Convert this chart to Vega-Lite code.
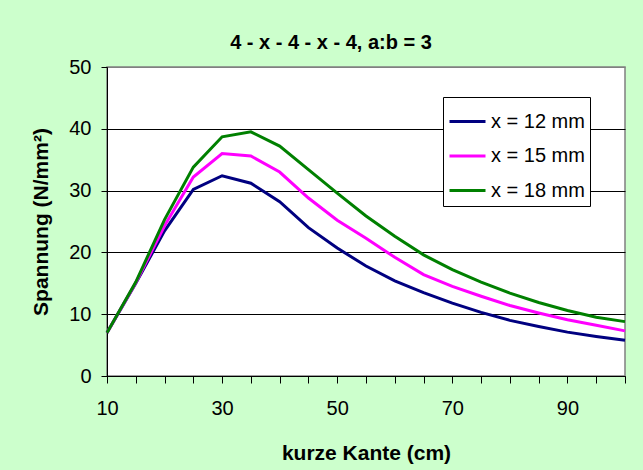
{
  "$schema": "https://vega.github.io/schema/vega-lite/v6.json",
  "width": 518,
  "height": 309,
  "autosize": "none",
  "padding": {"left": 107, "top": 67, "right": 18, "bottom": 94},
  "background": "#CCFFCC",
  "config": {
    "font": "Liberation Sans",
    "view": {"fill": "white", "stroke": "#808080", "strokeWidth": 1.5},
    "axis": {"labelFont": "Liberation Sans", "titleFont": "Liberation Sans", "labelColor": "black", "titleColor": "black", "domainColor": "black", "tickColor": "black", "labelFontSize": 20, "titleFontSize": 21, "titleFontWeight": "bold"}
  },
  "title": {"text": "4 - x - 4 - x - 4, a:b = 3", "font": "Liberation Sans", "fontSize": 20, "fontWeight": "bold", "color": "black", "anchor": "middle", "dx": -35, "offset": 4},
  "data": {"values": [
    {"kante": 10, "serie": "x = 12 mm", "spannung": 7.0},
    {"kante": 15, "serie": "x = 12 mm", "spannung": 15.0},
    {"kante": 20, "serie": "x = 12 mm", "spannung": 23.5},
    {"kante": 25, "serie": "x = 12 mm", "spannung": 30.2},
    {"kante": 30, "serie": "x = 12 mm", "spannung": 32.4},
    {"kante": 35, "serie": "x = 12 mm", "spannung": 31.2},
    {"kante": 40, "serie": "x = 12 mm", "spannung": 28.2},
    {"kante": 45, "serie": "x = 12 mm", "spannung": 24.0},
    {"kante": 50, "serie": "x = 12 mm", "spannung": 20.7},
    {"kante": 55, "serie": "x = 12 mm", "spannung": 17.8},
    {"kante": 60, "serie": "x = 12 mm", "spannung": 15.4},
    {"kante": 65, "serie": "x = 12 mm", "spannung": 13.5},
    {"kante": 70, "serie": "x = 12 mm", "spannung": 11.8},
    {"kante": 75, "serie": "x = 12 mm", "spannung": 10.3},
    {"kante": 80, "serie": "x = 12 mm", "spannung": 9.0},
    {"kante": 85, "serie": "x = 12 mm", "spannung": 8.0},
    {"kante": 90, "serie": "x = 12 mm", "spannung": 7.1},
    {"kante": 95, "serie": "x = 12 mm", "spannung": 6.4},
    {"kante": 100, "serie": "x = 12 mm", "spannung": 5.8},
    {"kante": 10, "serie": "x = 15 mm", "spannung": 7.0},
    {"kante": 15, "serie": "x = 15 mm", "spannung": 15.1},
    {"kante": 20, "serie": "x = 15 mm", "spannung": 24.3},
    {"kante": 25, "serie": "x = 15 mm", "spannung": 32.2},
    {"kante": 30, "serie": "x = 15 mm", "spannung": 36.0},
    {"kante": 35, "serie": "x = 15 mm", "spannung": 35.6},
    {"kante": 40, "serie": "x = 15 mm", "spannung": 33.0},
    {"kante": 45, "serie": "x = 15 mm", "spannung": 28.8},
    {"kante": 50, "serie": "x = 15 mm", "spannung": 25.2},
    {"kante": 55, "serie": "x = 15 mm", "spannung": 22.3},
    {"kante": 60, "serie": "x = 15 mm", "spannung": 19.2},
    {"kante": 65, "serie": "x = 15 mm", "spannung": 16.4},
    {"kante": 70, "serie": "x = 15 mm", "spannung": 14.5},
    {"kante": 75, "serie": "x = 15 mm", "spannung": 12.9},
    {"kante": 80, "serie": "x = 15 mm", "spannung": 11.4},
    {"kante": 85, "serie": "x = 15 mm", "spannung": 10.2},
    {"kante": 90, "serie": "x = 15 mm", "spannung": 9.1},
    {"kante": 95, "serie": "x = 15 mm", "spannung": 8.2},
    {"kante": 100, "serie": "x = 15 mm", "spannung": 7.3},
    {"kante": 10, "serie": "x = 18 mm", "spannung": 7.0},
    {"kante": 15, "serie": "x = 18 mm", "spannung": 15.2},
    {"kante": 20, "serie": "x = 18 mm", "spannung": 25.3},
    {"kante": 25, "serie": "x = 18 mm", "spannung": 33.8},
    {"kante": 30, "serie": "x = 18 mm", "spannung": 38.7},
    {"kante": 35, "serie": "x = 18 mm", "spannung": 39.5},
    {"kante": 40, "serie": "x = 18 mm", "spannung": 37.2},
    {"kante": 45, "serie": "x = 18 mm", "spannung": 33.4},
    {"kante": 50, "serie": "x = 18 mm", "spannung": 29.6},
    {"kante": 55, "serie": "x = 18 mm", "spannung": 25.9},
    {"kante": 60, "serie": "x = 18 mm", "spannung": 22.6},
    {"kante": 65, "serie": "x = 18 mm", "spannung": 19.6},
    {"kante": 70, "serie": "x = 18 mm", "spannung": 17.2},
    {"kante": 75, "serie": "x = 18 mm", "spannung": 15.2},
    {"kante": 80, "serie": "x = 18 mm", "spannung": 13.4},
    {"kante": 85, "serie": "x = 18 mm", "spannung": 11.9},
    {"kante": 90, "serie": "x = 18 mm", "spannung": 10.6},
    {"kante": 95, "serie": "x = 18 mm", "spannung": 9.5},
    {"kante": 100, "serie": "x = 18 mm", "spannung": 8.8}
  ]},
  "mark": {"type": "line", "strokeWidth": 3},
  "encoding": {
    "x": {
      "field": "kante", "type": "quantitative",
      "scale": {"domain": [10, 100], "nice": false, "zero": false},
      "axis": {
        "title": "kurze Kante (cm)",
        "values": [10, 15, 20, 25, 30, 35, 40, 45, 50, 55, 60, 65, 70, 75, 80, 85, 90, 95, 100],
        "labelExpr": "(datum.value - 10) % 20 == 0 ? datum.label : ''",
        "grid": false, "tickSize": 7, "labelPadding": 15, "titlePadding": 24,
        "labelOverlap": false, "labelFlush": false
      }
    },
    "y": {
      "field": "spannung", "type": "quantitative",
      "scale": {"domain": [0, 50], "nice": false},
      "axis": {
        "title": "Spannung (N/mm²)",
        "values": [0, 10, 20, 30, 40, 50],
        "grid": true,
        "gridColor": {"condition": {"test": "datum.value == 50", "value": "#808080"}, "value": "black"},
        "gridOpacity": 1,
        "tickSize": 6, "labelPadding": 10, "titlePadding": 17
      }
    },
    "color": {
      "field": "serie", "type": "nominal",
      "scale": {"domain": ["x = 12 mm", "x = 15 mm", "x = 18 mm"], "range": ["#000080", "#FF00FF", "#008000"]},
      "legend": {
        "title": null, "orient": "none", "legendX": 336, "legendY": 30,
        "fillColor": "white", "strokeColor": "black", "padding": 5,
        "symbolType": "stroke", "symbolSize": 1296, "symbolStrokeWidth": 3,
        "labelFont": "Liberation Sans", "labelFontSize": 20, "labelColor": "black",
        "labelOffset": 4, "rowPadding": 4.5
      }
    }
  }
}
